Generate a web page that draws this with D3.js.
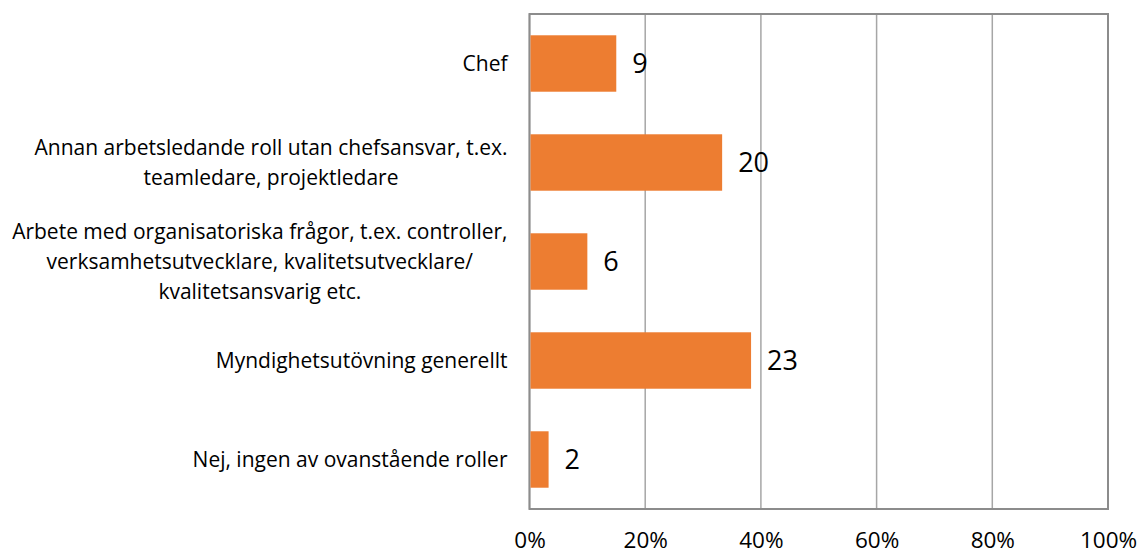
<!DOCTYPE html>
<html>
<head>
<meta charset="utf-8">
<script src="https://cdn.jsdelivr.net/npm/d3@7"></script>
<style>
  body { margin: 0; background: #fff; }
  text { font-family: "Open Sans", sans-serif; fill: #000; }
</style>
</head>
<body>
<div id="chart"></div>
<script>
// categories, each one a list of wrapped lines
var categories = [
  ["Chef"],
  ["Annan arbetsledande roll utan chefsansvar, t.ex.", "teamledare, projektledare"],
  ["Arbete med organisatoriska frågor, t.ex. controller,", "verksamhetsutvecklare, kvalitetsutvecklare/", "kvalitetsansvarig etc."],
  ["Myndighetsutövning generellt"],
  ["Nej, ingen av ovanstående roller"]
];
// share of respondents in percent (bar length)
var shares = [15.0, 33.3, 10.0, 38.3, 3.3];
// counts shown next to each bar
var counts = [9, 20, 6, 23, 2];
var xTicks = [0, 20, 40, 60, 80, 100];

var W = 1140, H = 554;
var margin = {top: 14, right: 32, bottom: 45, left: 529.5};
var width = W - margin.left - margin.right,
    height = H - margin.top - margin.bottom;

var svg = d3.select("#chart")
  .append("svg")
    .attr("width", W)
    .attr("height", H);

var g = svg.append("g")
  .attr("transform", "translate(" + margin.left + "," + margin.top + ")");

var x = d3.scaleLinear()
  .domain([0, 100])
  .range([0, width]);

var y = d3.scaleBand()
  .domain(d3.range(categories.length))
  .range([0, height])
  .paddingInner(0.43)
  .paddingOuter(0.215);

// gridlines
g.append("g")
  .selectAll("line")
  .data(xTicks)
  .enter()
  .append("line")
    .attr("x1", function (d) { return x(d); })
    .attr("x2", function (d) { return x(d); })
    .attr("y1", 0)
    .attr("y2", height)
    .style("stroke", "#a6a6a6")
    .style("stroke-width", 1.5);

// frame
g.append("rect")
  .attr("width", width)
  .attr("height", height)
  .style("fill", "none")
  .style("stroke", "#8c8c8c")
  .style("stroke-width", 2);

// bars
g.append("g")
  .selectAll("rect")
  .data(shares)
  .enter()
  .append("rect")
    .attr("x", x(0) + 1)
    .attr("y", function (d, i) { return y(i); })
    .attr("width", function (d) { return x(d) - x(0) - 1; })
    .attr("height", y.bandwidth())
    .style("fill", "#ED7D31");

// count labels
g.append("g")
  .selectAll("text")
  .data(counts)
  .enter()
  .append("text")
    .attr("x", function (d, i) { return x(shares[i]) + 16; })
    .attr("y", function (d, i) { return y(i) + y.bandwidth() / 2; })
    .attr("dy", "0.36em")
    .style("font-size", "27px")
    .text(function (d) { return d; });

// x axis tick labels
var xAxis = g.append("g")
  .attr("transform", "translate(0," + height + ")")
  .call(d3.axisBottom(x).tickValues(xTicks).tickSize(0).tickPadding(23)
    .tickFormat(function (d) { return d + "%"; }));
xAxis.select(".domain").remove();
xAxis.selectAll("text")
  .style("font-family", "'Open Sans', sans-serif")
  .style("font-size", "22.5px")
  .attr("fill", "#000");

// category labels: lines centred, block right-aligned next to the plot
var lineH = 30;
var catG = svg.append("g");
categories.forEach(function (lines, i) {
  var t = catG.append("text").style("font-size", "21px").attr("text-anchor", "middle");
  var cy = margin.top + y(i) + y.bandwidth() / 2;
  var w = 0;
  lines.forEach(function (line, k) {
    var ts = t.append("tspan")
      .attr("x", 0)
      .attr("y", cy + (k - (lines.length - 1) / 2) * lineH)
      .attr("dy", "0.35em")
      .text(line);
    w = Math.max(w, ts.node().getComputedTextLength());
  });
  t.selectAll("tspan").attr("x", margin.left - 22 - w / 2);
});
</script>
</body>
</html>
